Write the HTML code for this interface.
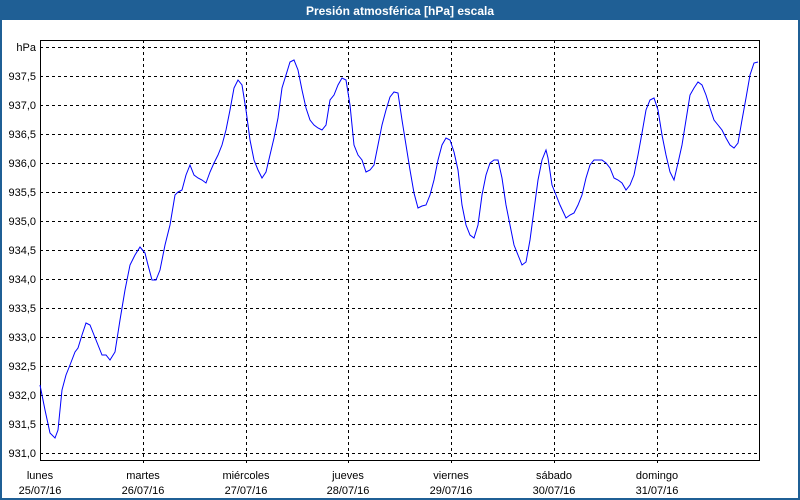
<!DOCTYPE html>
<html><head><meta charset="utf-8"><style>
html,body{margin:0;padding:0;}
body{width:800px;height:500px;overflow:hidden;background:#fff;font-family:"Liberation Sans",sans-serif;}
</style></head><body>
<svg width="800" height="500" xmlns="http://www.w3.org/2000/svg" style="display:block">
<rect x="0" y="0" width="800" height="500" fill="#1f5f95"/>
<rect x="2" y="20" width="796" height="478" fill="#fff"/>
<text x="400" y="15" fill="#fff" font-size="12" font-weight="bold" text-anchor="middle" font-family="Liberation Sans, sans-serif">Presión atmosférica [hPa] escala</text>
<g stroke="#000" stroke-width="1" stroke-dasharray="3,3" shape-rendering="crispEdges">
<line x1="40" y1="47.5" x2="760" y2="47.5"/>
<line x1="40" y1="76.5" x2="760" y2="76.5"/>
<line x1="40" y1="105.5" x2="760" y2="105.5"/>
<line x1="40" y1="134.5" x2="760" y2="134.5"/>
<line x1="40" y1="163.5" x2="760" y2="163.5"/>
<line x1="40" y1="192.5" x2="760" y2="192.5"/>
<line x1="40" y1="221.5" x2="760" y2="221.5"/>
<line x1="40" y1="250.5" x2="760" y2="250.5"/>
<line x1="40" y1="279.5" x2="760" y2="279.5"/>
<line x1="40" y1="308.5" x2="760" y2="308.5"/>
<line x1="40" y1="337.5" x2="760" y2="337.5"/>
<line x1="40" y1="366.5" x2="760" y2="366.5"/>
<line x1="40" y1="395.5" x2="760" y2="395.5"/>
<line x1="40" y1="424.5" x2="760" y2="424.5"/>
<line x1="40" y1="453.5" x2="760" y2="453.5"/>
<line x1="143.5" y1="40" x2="143.5" y2="464"/>
<line x1="246.5" y1="40" x2="246.5" y2="464"/>
<line x1="348.5" y1="40" x2="348.5" y2="464"/>
<line x1="451.5" y1="40" x2="451.5" y2="464"/>
<line x1="554.5" y1="40" x2="554.5" y2="464"/>
<line x1="657.5" y1="40" x2="657.5" y2="464"/>
</g>
<rect x="40.5" y="40.5" width="719" height="420" fill="none" stroke="#000" stroke-width="1" shape-rendering="crispEdges"/>
<g font-size="11" fill="#000" text-anchor="end" font-family="Liberation Sans, sans-serif">
<text x="36" y="51">hPa</text>
<text x="36" y="80">937,5</text>
<text x="36" y="109">937,0</text>
<text x="36" y="138">936,5</text>
<text x="36" y="167">936,0</text>
<text x="36" y="196">935,5</text>
<text x="36" y="225">935,0</text>
<text x="36" y="254">934,5</text>
<text x="36" y="283">934,0</text>
<text x="36" y="312">933,5</text>
<text x="36" y="341">933,0</text>
<text x="36" y="370">932,5</text>
<text x="36" y="399">932,0</text>
<text x="36" y="428">931,5</text>
<text x="36" y="457">931,0</text>
</g>
<g font-size="11" fill="#000" text-anchor="middle" font-family="Liberation Sans, sans-serif">
<text x="40" y="479">lunes</text><text x="40" y="494">25/07/16</text>
<text x="143" y="479">martes</text><text x="143" y="494">26/07/16</text>
<text x="246" y="479">miércoles</text><text x="246" y="494">27/07/16</text>
<text x="348" y="479">jueves</text><text x="348" y="494">28/07/16</text>
<text x="451" y="479">viernes</text><text x="451" y="494">29/07/16</text>
<text x="554" y="479">sábado</text><text x="554" y="494">30/07/16</text>
<text x="657" y="479">domingo</text><text x="657" y="494">31/07/16</text>
</g>
<polyline fill="none" stroke="#0000ff" stroke-width="1" points="40,385 45,410 50,433 55,438 58,430 62,390 66,375 70,365 75,352 78,348 82,335 86,323 90,325 94,335 98,345 102,355 106,355 110,360 115,352 120,320 125,290 130,265 135,255 140,247 145,253 148,265 152,280 156,280 160,270 165,245 170,225 175,195 178,192 182,190 186,175 190,165 194,175 198,178 202,180 206,183 210,172 214,163 218,155 222,145 226,130 230,110 234,88 238,80 242,85 246,110 250,140 254,160 258,170 262,178 266,172 270,155 274,138 278,118 282,88 286,75 290,62 294,60 298,70 302,90 306,108 310,120 314,125 318,128 322,130 326,125 330,100 334,95 338,85 342,78 346,80 350,105 354,145 358,155 362,160 366,172 370,170 374,165 378,145 382,125 386,110 390,97 394,92 398,93 402,120 406,145 410,170 414,193 418,208 422,206 426,205 430,195 434,180 438,160 442,145 446,138 450,140 454,152 458,170 462,205 466,225 470,235 474,238 478,225 482,195 486,175 490,163 494,160 498,160 502,178 506,205 510,225 514,245 518,255 522,265 526,262 530,240 534,210 538,180 542,160 546,150 548,158 552,185 556,195 560,205 566,218 570,215 574,213 578,205 582,195 586,178 590,165 594,160 598,160 602,160 606,163 610,168 614,178 618,180 622,183 626,190 630,185 634,175 638,155 642,133 646,110 650,100 654,98 658,110 662,135 666,155 670,172 674,180 678,163 682,145 686,120 690,95 694,88 698,82 702,85 706,95 710,108 714,120 718,125 722,130 726,138 730,145 734,148 738,143 742,120 746,98 750,75 754,63 758,62"/>
</svg>
</body></html>
